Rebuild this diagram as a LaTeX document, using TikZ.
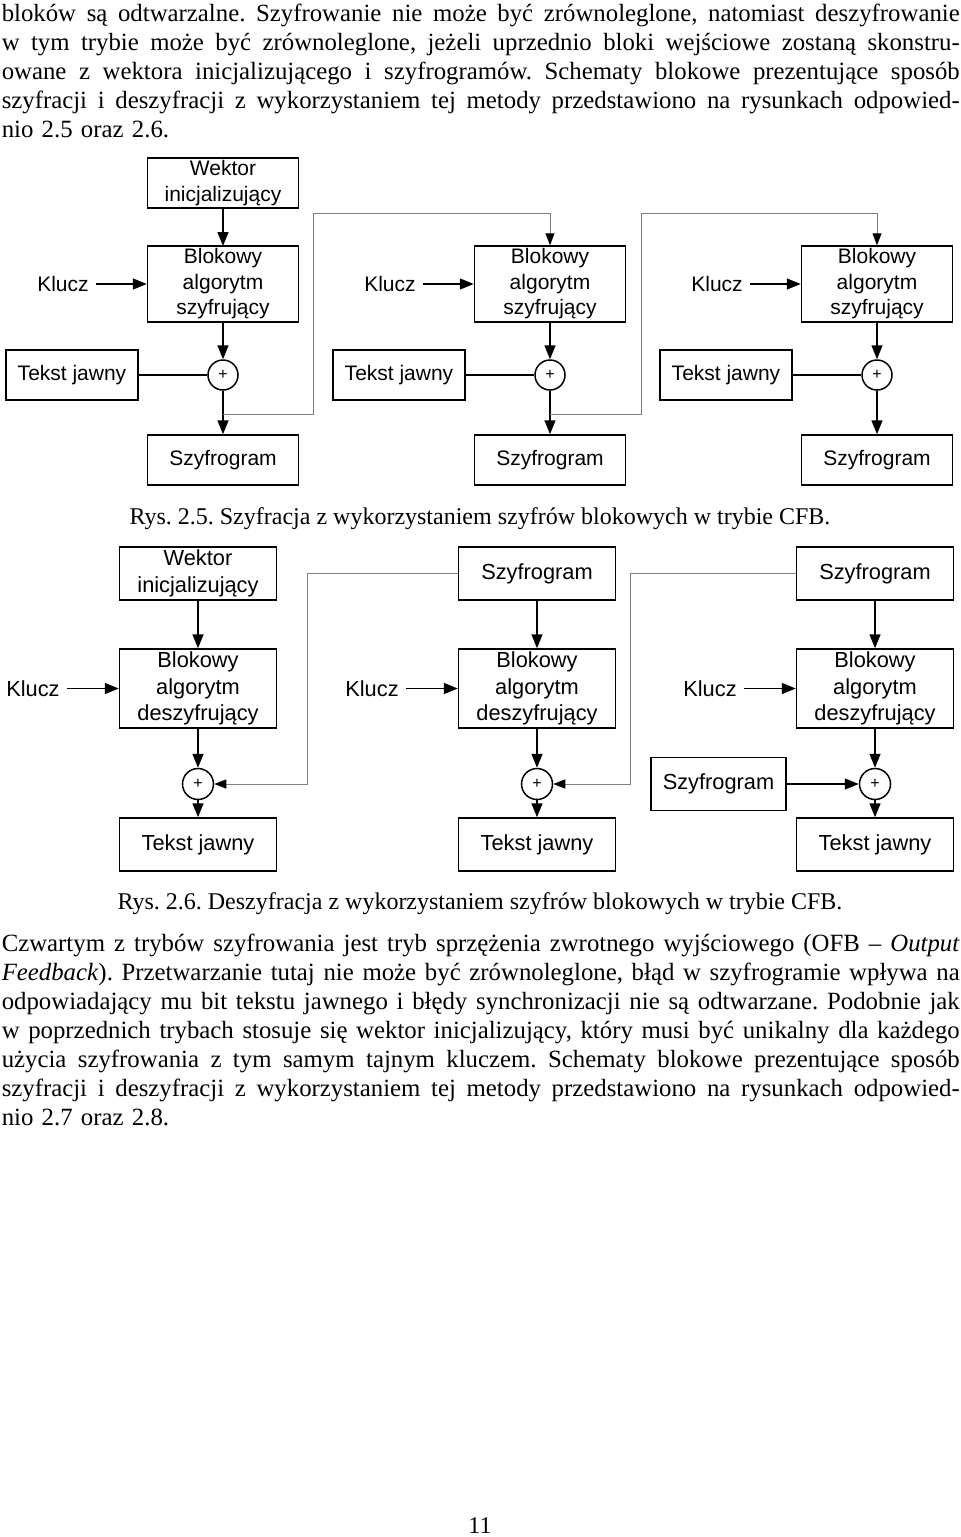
\documentclass[tikz,border=0pt]{standalone}
\usepackage{fontspec}
\setmainfont{Liberation Serif}
\newfontfamily\diagfont{Liberation Sans}
\usetikzlibrary{arrows.meta, calc}

\newcommand\wiersz[1]{\par\noindent\hbox to 479pt{\spaceskip=0.25em plus 1fil\relax\strut #1}\par}
\newcommand\ostatni[1]{\par\noindent\hbox to 479pt{\strut #1\hfil}\par}

\begin{document}
\begin{tikzpicture}[
    x=0.5pt, y=-0.5pt,
    block/.style={rectangle, draw, line width=0.75pt, minimum width=75.5pt, minimum height=25pt, align=center, inner sep=0pt, font={\diagfont\fontsize{10.5}{12.75}\selectfont}},
    dblock/.style={block, minimum width=78.5pt, minimum height=26.5pt, font={\diagfont\fontsize{10.9}{13.25}\selectfont}},
    txt/.style={font={\diagfont\fontsize{10.5}{12.75}\selectfont}},
    dtxt/.style={font={\diagfont\fontsize{10.9}{13.25}\selectfont}},
    xor/.style={circle, draw, line width=0.75pt, minimum size=15pt, inner sep=0pt, font={\diagfont\fontsize{8}{8}\selectfont}},
    para/.style={anchor=north west, inner sep=0pt, text width=479pt, font={\fontsize{12.4}{14.5}\selectfont\frenchspacing}},
    caption/.style={anchor=base, inner sep=0pt, font={\fontsize{12}{14.5}\selectfont\frenchspacing}},
    fb/.style={draw=gray, line width=0.5pt, -{Triangle[length=6pt, width=4.5pt, color=black]}},
    ->, >={Triangle[length=7pt, width=5.5pt]}, line width=0.75pt
]
\useasboundingbox (0,0) rectangle (960,1537);

% Text above
\node[para] (p1) at (1,-8) {%
\wiersz{bloków są odtwarzalne. Szyfrowanie nie może być zrównoleglone, natomiast deszyfrowanie}%
\wiersz{w tym trybie może być zrównoleglone, jeżeli uprzednio bloki wejściowe zostaną skonstru-}%
\wiersz{owane z wektora inicjalizującego i szyfrogramów. Schematy blokowe prezentujące sposób}%
\wiersz{szyfracji i deszyfracji z wykorzystaniem tej metody przedstawiono na rysunkach odpowied-}%
\ostatni{nio 2.5 oraz 2.6.}};

% Rys. 2.5
\node[block] (w1) at (223,183) {Wektor\\inicjalizujący};
\draw[->] (w1) -- (223,246);

\foreach \c/\i in {223/1,550/2,877/3} {
    \node[block, minimum height=38pt] (b\i) at (\c,284) {Blokowy\\algorytm\\szyfrujący};
    \node[txt] (k\i) at (\c-160,284) {Klucz};
    \node[block, minimum width=66pt] (tj\i) at (\c-151,375) {Tekst jawny};
    \node[xor] (x\i) at (\c,375) {+};
    \node[block] (sz\i) at (\c,460) {Szyfrogram};
    \draw[->] (k\i) -- (b\i);
    \draw[->] (b\i) -- (x\i);
    \draw[->] (x\i) -- (sz\i);
    \draw[-] (tj\i) -- (x\i);
    \coordinate (o\i) at ($(x\i.south)!0.55!(sz\i.north)$);
}

% feedback
\draw[fb] (o1) -| (313,213) -| (b2.north);
\draw[fb] (o2) -| (641,213) -| (b3.north);

\node[caption] (r25) at (480,524) {Rys. 2.5. Szyfracja z wykorzystaniem szyfrów blokowych w trybie CFB.};

% Rys. 2.6
\foreach \c/\i/\t in {198/1/{Wektor\\inicjalizujący}, 537/2/Szyfrogram, 875/3/Szyfrogram} {
    \node[dblock] (g\i) at (\c,573.5) {\t};
    \node[dblock, minimum height=39.5pt] (d\i) at (\c,688.5) {Blokowy\\algorytm\\deszyfrujący};
    \node[dtxt] (l\i) at (\c-165,688.5) {Klucz};
    \node[xor, minimum size=15.5pt] (y\i) at (\c,784) {+};
    \node[dblock] (j\i) at (\c,844.5) {Tekst jawny};
    \draw[->] (g\i) -- (d\i);
    \draw[->] (l\i) -- (d\i);
    \draw[->] (d\i) -- (y\i);
    \draw[->] (y\i) -- (j\i);
}

\node[dblock, minimum width=67.5pt] (s3) at (718.5,784) {Szyfrogram};
\draw[->] (s3) -- (y3);

% feedback
\draw[fb] (g2.west) -| (307,784) -- (y1.east);
\draw[fb] (g3.west) -| (630,784) -- (y2.east);

\node[caption] (r26) at (480,909.5) {Rys. 2.6. Deszyfracja z wykorzystaniem szyfrów blokowych w trybie CFB.};

% Text below
\node[para] (p2) at (1,922.2) {%
\wiersz{Czwartym z trybów szyfrowania jest tryb sprzężenia zwrotnego wyjściowego (OFB – \textit{Output}}%
\wiersz{\textit{Feedback}). Przetwarzanie tutaj nie może być zrównoleglone, błąd w szyfrogramie wpływa na}%
\wiersz{odpowiadający mu bit tekstu jawnego i błędy synchronizacji nie są odtwarzane. Podobnie jak}%
\wiersz{w poprzednich trybach stosuje się wektor inicjalizujący, który musi być unikalny dla każdego}%
\wiersz{użycia szyfrowania z tym samym tajnym kluczem. Schematy blokowe prezentujące sposób}%
\wiersz{szyfracji i deszyfracji z wykorzystaniem tej metody przedstawiono na rysunkach odpowied-}%
\ostatni{nio 2.7 oraz 2.8.}};

\node[caption] (nr) at (480,1533) {11};

\end{tikzpicture}
\end{document}
